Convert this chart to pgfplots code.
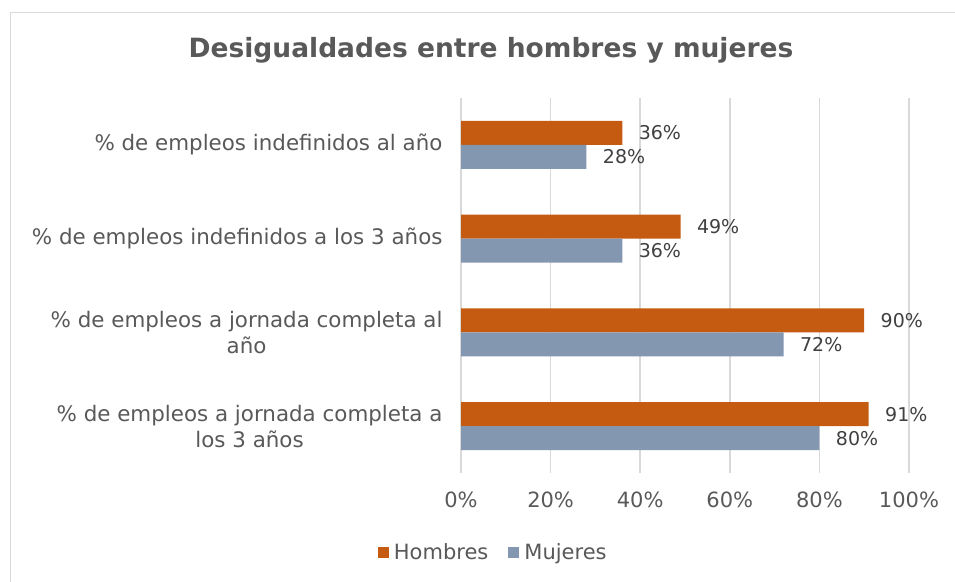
\documentclass[border=0pt]{standalone}
\usepackage{fontspec}
\setmainfont{DejaVu Sans}
\usepackage{pgfplots}
\pgfplotsset{compat=1.18}
\definecolor{hom}{HTML}{C55A11}
\definecolor{muj}{HTML}{8497B0}
\definecolor{txt}{HTML}{595959}
\definecolor{lbl}{HTML}{404040}
\definecolor{grd}{HTML}{D9D9D9}
\begin{document}
\begin{tikzpicture}
\path[use as bounding box] (0,0) rectangle (955pt,581pt);
\draw[grd, line width=1pt] (10.5pt,-5pt) -- (10.5pt,568.5pt) -- (960pt,568.5pt);
\node[text=txt, font=\fontsize{26.5}{30}\selectfont\bfseries] at (491pt,531pt) {Desigualdades entre hombres y mujeres};
\begin{axis}[
  at={(461pt,108pt)}, anchor=south west, scale only axis,
  width=448pt, height=375pt,
  xbar, bar width=24pt,
  xmin=0, xmax=100, ymin=-0.5, ymax=3.5, y dir=reverse,
  xtick={0,20,40,60,80,100},
  xticklabel={\pgfmathprintnumber{\tick}\%},
  /pgf/number format/assume math mode=true,
  ytick={0,1,2,3},
  yticklabels={{\% de empleos indefinidos al año},{\% de empleos indefinidos a los 3 años},{\% de empleos a jornada completa al\\año},{\% de empleos a jornada completa a\\los 3 años}},
  yticklabel style={align=center, text=txt, font=\fontsize{21.4}{26}\selectfont, xshift=-15pt},
  xticklabel style={text=txt, font=\fontsize{21}{26}\selectfont, yshift=-15pt},
  major tick length=0pt,
  axis line style={draw=none},
  xmajorgrids, grid style={grd, line width=1.5pt},
  tick style={draw=none},
  nodes near coords={\pgfmathprintnumber{\pgfplotspointmeta}\%},
  nodes near coords style={text=lbl, font=\fontsize{19}{22}\selectfont, anchor=west, xshift=13pt},
  legend columns=2,
  legend style={draw=none, at={(0.072,-0.211)}, anchor=center, font=\fontsize{21}{26}\selectfont, text=txt, inner sep=0pt, /tikz/every even column/.append style={column sep=18pt}},
  legend image code/.code={\fill[#1] (0pt,-5.5pt) rectangle (11pt,5.5pt); \path (14pt,0pt);},
]
\addplot[fill=hom, draw=none, bar shift=12pt] coordinates {(36,0) (49,1) (90,2) (91,3)};
\addplot[fill=muj, draw=none, bar shift=-12pt] coordinates {(28,0) (36,1) (72,2) (80,3)};
\legend{Hombres,Mujeres}
\end{axis}
\end{tikzpicture}
\end{document}
